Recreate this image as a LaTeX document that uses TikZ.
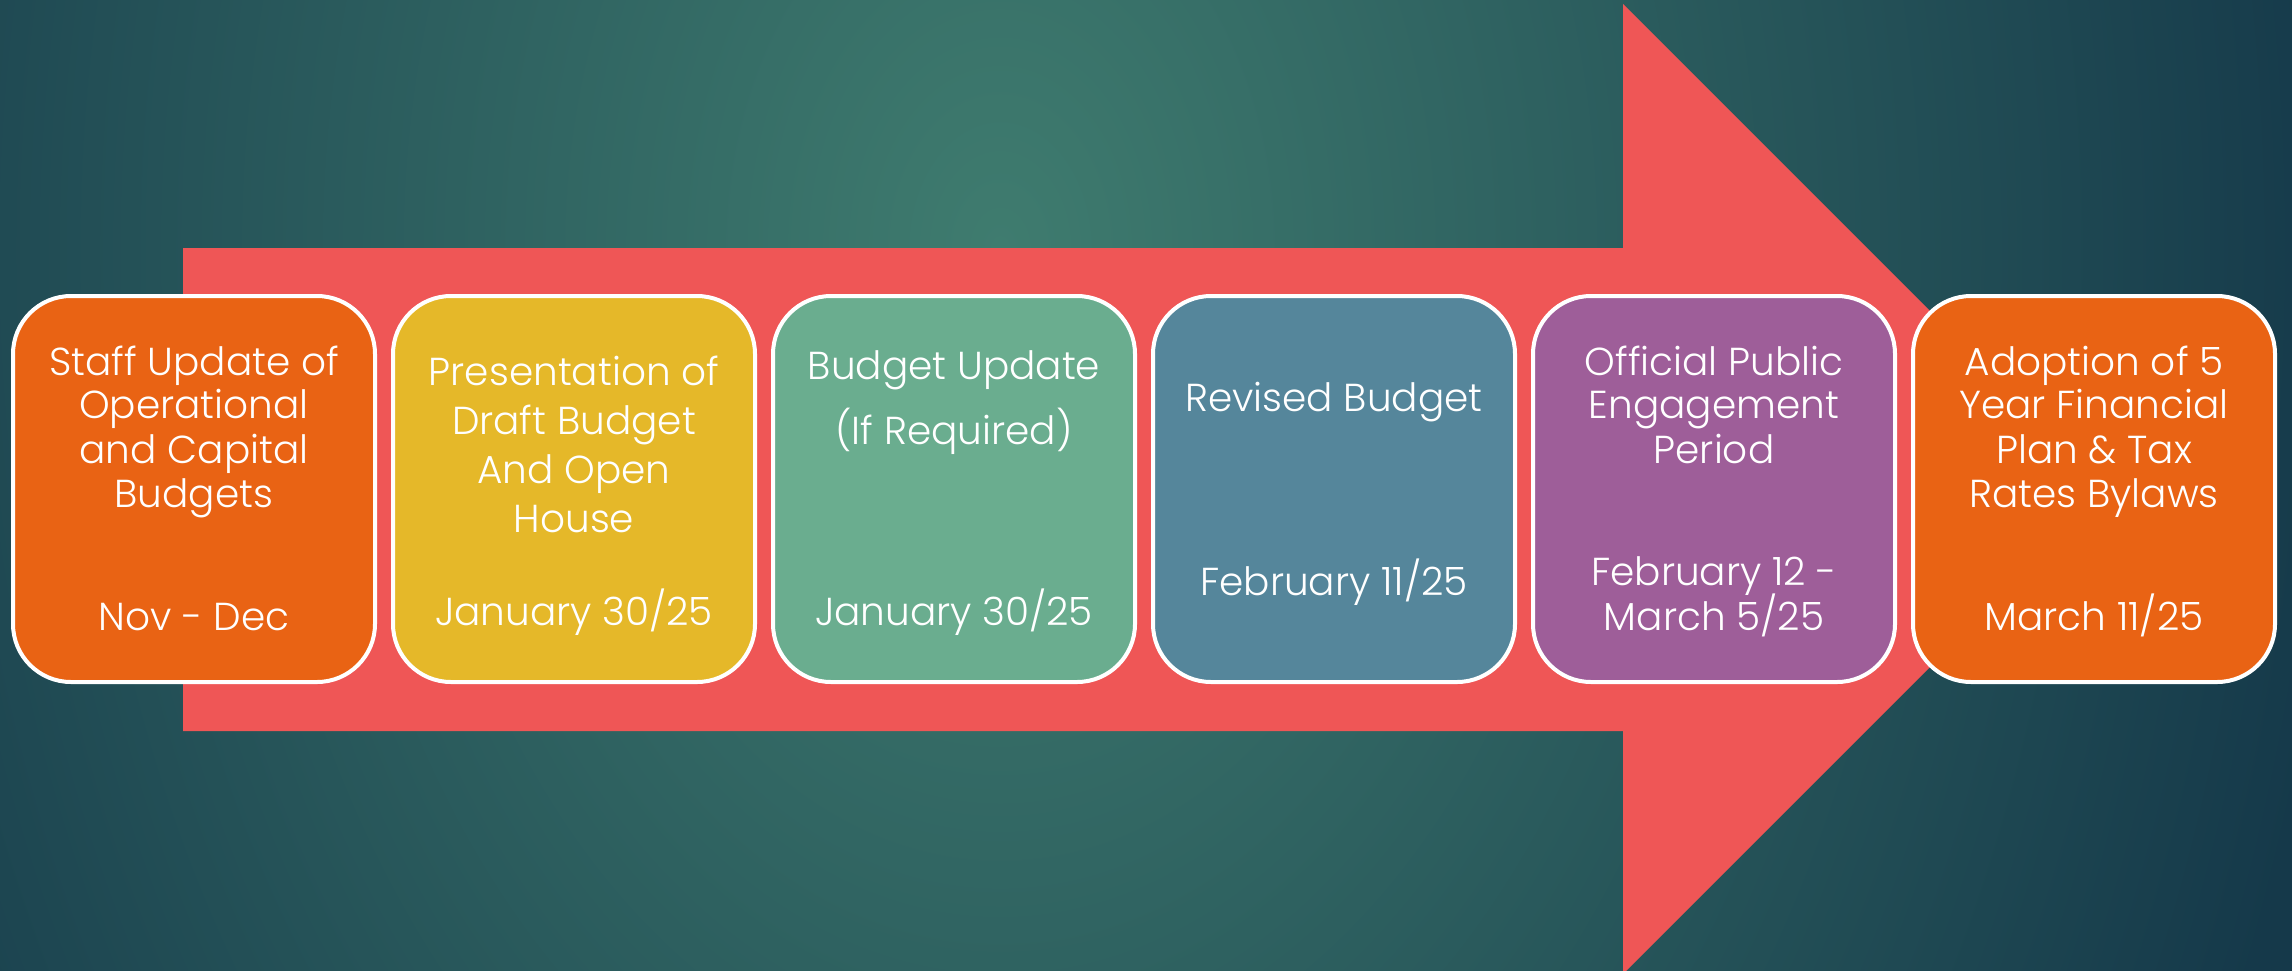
\documentclass[tikz,border=0pt]{standalone}
\usepackage{fontspec}
\setmainfont{Poppins}[UprightFont=* Light]
\definecolor{bgin}{HTML}{3F7C6F}
\definecolor{bgout}{HTML}{15394A}
\definecolor{arrowred}{HTML}{EF5656}
\definecolor{cOrange}{HTML}{E96314}
\definecolor{cYellow}{HTML}{E5B829}
\definecolor{cGreen}{HTML}{6AAD8F}
\definecolor{cBlue}{HTML}{55869B}
\definecolor{cPurple}{HTML}{9E5E99}
\newcommand{\stageline}[4]{\node[lbl] (#1) at (#2,#3) {#4};}
\begin{document}
\begin{tikzpicture}[x=1pt,y=-1pt,
  stagebox/.style={draw=white, line width=4pt, rounded corners=58pt, minimum width=362pt, minimum height=386pt, inner sep=0pt},
  lbl/.style={text=white, font=\fontsize{39}{46}\selectfont, anchor=base, inner sep=0pt}]
\useasboundingbox (0,0) rectangle (2292,970);
\begin{scope}
\clip (0,0) rectangle (2292,970);
\fill[bgout] (0,0) rectangle (2292,970);
\shade[inner color=bgin, outer color=bgout] (-355,-1650) rectangle (2355,2150);
\end{scope}
% big arrow
\fill[arrowred] (183,248) -- (1623,248) -- (1623,4) -- (2108,489) -- (1623,974) -- (1623,731) -- (183,731) -- cycle;
% boxes
\node[stagebox, fill=cOrange] (b1) at (194,489) {};
\node[stagebox, fill=cYellow] (b2) at (574,489) {};
\node[stagebox, fill=cGreen]  (b3) at (954,489) {};
\node[stagebox, fill=cBlue]   (b4) at (1334,489) {};
\node[stagebox, fill=cPurple] (b5) at (1714,489) {};
\node[stagebox, fill=cOrange] (b6) at (2094,489) {};
% box 1
\stageline{t1a}{194}{375}{Staff Update of}
\stageline{t1b}{194}{418}{Operational}
\stageline{t1c}{194}{463}{and Capital}
\stageline{t1d}{194}{507}{Budgets}
\stageline{d1}{194}{630}{Nov - Dec}
% box 2
\stageline{t2a}{574}{385}{Presentation of}
\stageline{t2b}{574}{434}{Draft Budget}
\stageline{t2c}{574}{483}{And Open}
\stageline{t2d}{574}{532}{House}
\stageline{d2}{574}{625}{January 30/25}
% box 3
\stageline{t3a}{954}{379}{Budget Update}
\stageline{t3b}{954}{444}{(If Required)}
\stageline{d3}{954}{625}{January 30/25}
% box 4
\stageline{t4a}{1334}{411}{Revised Budget}
\stageline{d4}{1334}{595}{February 11/25}
% box 5
\stageline{t5a}{1714}{375}{Official Public}
\stageline{t5b}{1714}{418}{Engagement}
\stageline{t5c}{1714}{463}{Period}
\stageline{d5a}{1714}{585}{February 12 -}
\stageline{d5b}{1714}{630}{March 5/25}
% box 6
\stageline{t6a}{2094}{375}{Adoption of 5}
\stageline{t6b}{2094}{418}{Year Financial}
\stageline{t6c}{2094}{463}{Plan \& Tax}
\stageline{t6d}{2094}{507}{Rates Bylaws}
\stageline{d6}{2094}{630}{March 11/25}
\end{tikzpicture}
\end{document}
